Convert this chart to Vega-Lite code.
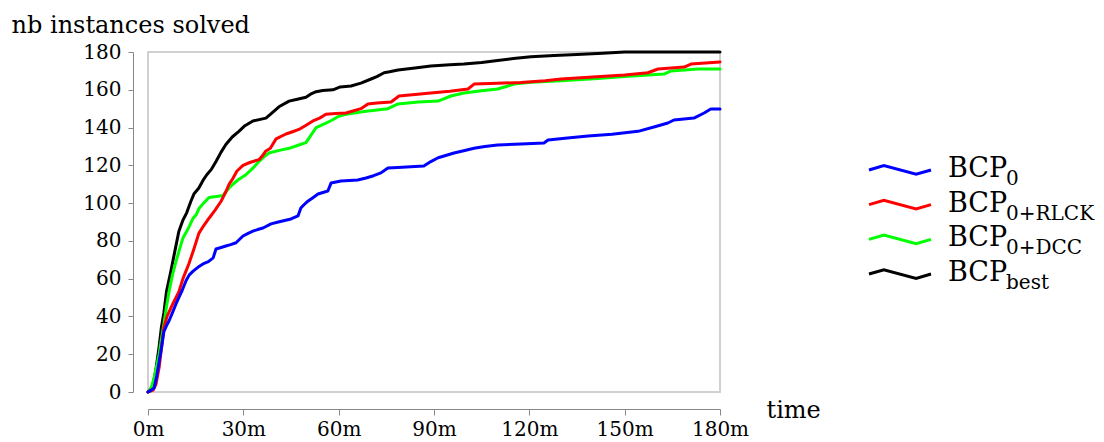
{
  "$schema": "https://vega.github.io/schema/vega-lite/v6.json",
  "background": "white",
  "padding": {"left": 10, "top": 12, "right": 0, "bottom": 0},
  "bounds": "flush",
  "spacing": 149,
  "config": {"font": "DejaVu Serif", "view": {"stroke": null}},
  "datasets": {
    "curves": [
      {"s":"best","t":0,"n":0},{"s":"best","t":1.5,"n":3},{"s":"best","t":2.5,"n":12},{"s":"best","t":3.5,"n":24},{"s":"best","t":4.2,"n":34},{"s":"best","t":5,"n":42},{"s":"best","t":5.8,"n":53},{"s":"best","t":7.2,"n":64},{"s":"best","t":8.5,"n":75},{"s":"best","t":9.7,"n":85},{"s":"best","t":11,"n":91},{"s":"best","t":12.2,"n":95},{"s":"best","t":13.5,"n":101},{"s":"best","t":14.5,"n":105},{"s":"best","t":16,"n":108},{"s":"best","t":17.3,"n":112},{"s":"best","t":18.5,"n":115},{"s":"best","t":20,"n":118},{"s":"best","t":21.4,"n":122},{"s":"best","t":23,"n":127},{"s":"best","t":24.5,"n":131},{"s":"best","t":26.5,"n":135},{"s":"best","t":28.6,"n":138},{"s":"best","t":30.5,"n":141},{"s":"best","t":33,"n":143.5},{"s":"best","t":37.1,"n":145},{"s":"best","t":38.5,"n":147},{"s":"best","t":41.2,"n":151},{"s":"best","t":44.4,"n":154},{"s":"best","t":47,"n":155},{"s":"best","t":49.7,"n":156},{"s":"best","t":51.5,"n":158},{"s":"best","t":52.9,"n":159},{"s":"best","t":55,"n":159.6},{"s":"best","t":58.2,"n":160},{"s":"best","t":60.5,"n":161.5},{"s":"best","t":63.9,"n":162},{"s":"best","t":67,"n":163.5},{"s":"best","t":70.2,"n":165.7},{"s":"best","t":72,"n":167},{"s":"best","t":74.3,"n":169},{"s":"best","t":76,"n":169.5},{"s":"best","t":78.7,"n":170.5},{"s":"best","t":84,"n":171.5},{"s":"best","t":89,"n":172.6},{"s":"best","t":95,"n":173.2},{"s":"best","t":99.4,"n":173.6},{"s":"best","t":105,"n":174.4},{"s":"best","t":110,"n":175.5},{"s":"best","t":115,"n":176.5},{"s":"best","t":120.5,"n":177.5},{"s":"best","t":127.8,"n":178.2},{"s":"best","t":135,"n":178.7},{"s":"best","t":143,"n":179.3},{"s":"best","t":150,"n":180},{"s":"best","t":180,"n":180},
      {"s":"dcc","t":0,"n":0},{"s":"dcc","t":1,"n":2},{"s":"dcc","t":2,"n":8},{"s":"dcc","t":3.5,"n":20},{"s":"dcc","t":4.2,"n":28},{"s":"dcc","t":5,"n":36},{"s":"dcc","t":5.8,"n":45},{"s":"dcc","t":6.6,"n":53},{"s":"dcc","t":7.7,"n":62},{"s":"dcc","t":8.8,"n":69},{"s":"dcc","t":10,"n":76},{"s":"dcc","t":11,"n":81.5},{"s":"dcc","t":12.5,"n":86},{"s":"dcc","t":14.2,"n":92},{"s":"dcc","t":15.2,"n":94},{"s":"dcc","t":16,"n":97},{"s":"dcc","t":17.5,"n":100},{"s":"dcc","t":19.2,"n":103},{"s":"dcc","t":21.5,"n":103.5},{"s":"dcc","t":23.6,"n":104},{"s":"dcc","t":25.5,"n":108},{"s":"dcc","t":26.7,"n":110},{"s":"dcc","t":28.5,"n":112.5},{"s":"dcc","t":30.8,"n":115},{"s":"dcc","t":33,"n":118.5},{"s":"dcc","t":34.9,"n":122},{"s":"dcc","t":36.5,"n":124.5},{"s":"dcc","t":38,"n":126.5},{"s":"dcc","t":41,"n":127.8},{"s":"dcc","t":44.4,"n":129},{"s":"dcc","t":47,"n":130.5},{"s":"dcc","t":49.7,"n":132},{"s":"dcc","t":51.3,"n":136},{"s":"dcc","t":52.9,"n":140},{"s":"dcc","t":56,"n":142.4},{"s":"dcc","t":58,"n":144},{"s":"dcc","t":60,"n":146},{"s":"dcc","t":62.3,"n":147},{"s":"dcc","t":68,"n":148.5},{"s":"dcc","t":75.5,"n":150},{"s":"dcc","t":78.7,"n":152.5},{"s":"dcc","t":85,"n":153.5},{"s":"dcc","t":91.3,"n":154},{"s":"dcc","t":95.3,"n":156.7},{"s":"dcc","t":99.4,"n":158.3},{"s":"dcc","t":105,"n":159.5},{"s":"dcc","t":110,"n":160.4},{"s":"dcc","t":115.2,"n":163},{"s":"dcc","t":120.5,"n":164},{"s":"dcc","t":130,"n":164.8},{"s":"dcc","t":141.6,"n":166},{"s":"dcc","t":150,"n":167},{"s":"dcc","t":162.4,"n":168.3},{"s":"dcc","t":164.6,"n":170},{"s":"dcc","t":173,"n":171},{"s":"dcc","t":180,"n":171},
      {"s":"rlck","t":0,"n":0},{"s":"rlck","t":1.6,"n":1},{"s":"rlck","t":2.5,"n":4},{"s":"rlck","t":3.5,"n":13},{"s":"rlck","t":4.3,"n":24},{"s":"rlck","t":5,"n":34},{"s":"rlck","t":6,"n":40},{"s":"rlck","t":7.9,"n":47},{"s":"rlck","t":9.7,"n":53},{"s":"rlck","t":11,"n":60},{"s":"rlck","t":12.9,"n":68},{"s":"rlck","t":14.5,"n":76},{"s":"rlck","t":16,"n":84},{"s":"rlck","t":17.5,"n":88},{"s":"rlck","t":19.2,"n":92},{"s":"rlck","t":21,"n":96},{"s":"rlck","t":23,"n":101},{"s":"rlck","t":24.5,"n":106},{"s":"rlck","t":25.5,"n":110},{"s":"rlck","t":26.7,"n":113},{"s":"rlck","t":28,"n":117},{"s":"rlck","t":29.9,"n":120},{"s":"rlck","t":32,"n":121.5},{"s":"rlck","t":34.9,"n":123},{"s":"rlck","t":36,"n":125},{"s":"rlck","t":37.1,"n":127.6},{"s":"rlck","t":38.5,"n":129},{"s":"rlck","t":40.3,"n":134},{"s":"rlck","t":43.4,"n":136.6},{"s":"rlck","t":45.5,"n":137.8},{"s":"rlck","t":47.5,"n":139},{"s":"rlck","t":49.5,"n":141},{"s":"rlck","t":51.9,"n":143.5},{"s":"rlck","t":54,"n":145},{"s":"rlck","t":56,"n":147},{"s":"rlck","t":59,"n":147.5},{"s":"rlck","t":62.3,"n":147.7},{"s":"rlck","t":67,"n":150},{"s":"rlck","t":69.2,"n":152.5},{"s":"rlck","t":72,"n":153},{"s":"rlck","t":76.5,"n":153.5},{"s":"rlck","t":79,"n":156.7},{"s":"rlck","t":84,"n":157.5},{"s":"rlck","t":89,"n":158.3},{"s":"rlck","t":95,"n":159.2},{"s":"rlck","t":100.7,"n":160.4},{"s":"rlck","t":102.6,"n":163},{"s":"rlck","t":110,"n":163.5},{"s":"rlck","t":117.4,"n":163.8},{"s":"rlck","t":125,"n":164.8},{"s":"rlck","t":130,"n":165.7},{"s":"rlck","t":140,"n":166.8},{"s":"rlck","t":150,"n":167.8},{"s":"rlck","t":157.3,"n":169},{"s":"rlck","t":160.5,"n":171},{"s":"rlck","t":168.7,"n":172},{"s":"rlck","t":170.9,"n":173.6},{"s":"rlck","t":180,"n":174.7},
      {"s":"b0","t":0,"n":0},{"s":"b0","t":1,"n":1},{"s":"b0","t":1.9,"n":2},{"s":"b0","t":2.7,"n":8},{"s":"b0","t":3.5,"n":16},{"s":"b0","t":4.3,"n":24},{"s":"b0","t":5,"n":32},{"s":"b0","t":5.8,"n":35},{"s":"b0","t":6.6,"n":37.6},{"s":"b0","t":7.7,"n":42},{"s":"b0","t":8.8,"n":46.6},{"s":"b0","t":9.7,"n":50},{"s":"b0","t":10.8,"n":54},{"s":"b0","t":12,"n":59},{"s":"b0","t":13,"n":62},{"s":"b0","t":14.2,"n":64},{"s":"b0","t":15.7,"n":66},{"s":"b0","t":17.3,"n":67.8},{"s":"b0","t":19,"n":69},{"s":"b0","t":20.5,"n":71},{"s":"b0","t":21.4,"n":75.7},{"s":"b0","t":23,"n":76.5},{"s":"b0","t":24.5,"n":77.3},{"s":"b0","t":26,"n":78},{"s":"b0","t":27.7,"n":79},{"s":"b0","t":29.9,"n":82.6},{"s":"b0","t":31.5,"n":84},{"s":"b0","t":33,"n":85.2},{"s":"b0","t":34.5,"n":86},{"s":"b0","t":36.2,"n":86.8},{"s":"b0","t":38.7,"n":89},{"s":"b0","t":41,"n":90},{"s":"b0","t":45,"n":91.6},{"s":"b0","t":47.2,"n":93.2},{"s":"b0","t":48.1,"n":97.4},{"s":"b0","t":49,"n":99},{"s":"b0","t":50.3,"n":101},{"s":"b0","t":52,"n":103},{"s":"b0","t":53.5,"n":104.8},{"s":"b0","t":56.6,"n":106.4},{"s":"b0","t":57.6,"n":110.6},{"s":"b0","t":60.7,"n":111.7},{"s":"b0","t":66,"n":112.2},{"s":"b0","t":68.6,"n":113.3},{"s":"b0","t":71,"n":114.5},{"s":"b0","t":73.3,"n":116},{"s":"b0","t":75.5,"n":118.6},{"s":"b0","t":80,"n":119},{"s":"b0","t":86.8,"n":119.6},{"s":"b0","t":89,"n":122},{"s":"b0","t":91.3,"n":124},{"s":"b0","t":96.3,"n":126.5},{"s":"b0","t":100,"n":128},{"s":"b0","t":102.6,"n":129},{"s":"b0","t":106,"n":130},{"s":"b0","t":110,"n":130.8},{"s":"b0","t":117.4,"n":131.3},{"s":"b0","t":124.6,"n":131.8},{"s":"b0","t":125.9,"n":133.4},{"s":"b0","t":132,"n":134.5},{"s":"b0","t":138.5,"n":135.5},{"s":"b0","t":146,"n":136.5},{"s":"b0","t":154.2,"n":138},{"s":"b0","t":159.2,"n":140.3},{"s":"b0","t":163.6,"n":142.4},{"s":"b0","t":165.5,"n":144},{"s":"b0","t":171.8,"n":145},{"s":"b0","t":175,"n":147.7},{"s":"b0","t":177.1,"n":149.8},{"s":"b0","t":180,"n":149.8}
    ],
    "legend": [
      {"s":"b0","sub":"0"},
      {"s":"rlck","sub":"0+RLCK"},
      {"s":"dcc","sub":"0+DCC"},
      {"s":"best","sub":"best"}
    ]
  },
  "hconcat": [
    {
      "width": 572,
      "height": 340,
      "view": {"stroke": "#d0d0d0", "strokeWidth": 2},
      "data": {"name": "curves"},
      "mark": {"type": "line", "strokeWidth": 3, "strokeJoin": "round", "strokeCap": "round"},
      "encoding": {
        "x": {
          "field": "t", "type": "quantitative",
          "scale": {"domain": [0, 180], "nice": false, "zero": false},
          "axis": {
            "values": [0, 30, 60, 90, 120, 150, 180],
            "labelExpr": "datum.value + 'm'",
            "offset": 17, "grid": false,
            "domainColor": "#888888", "tickColor": "#888888", "tickSize": 6,
            "labelFont": "DejaVu Serif", "labelFontSize": 20, "labelColor": "black",
            "labelPadding": 4, "labelFlush": false, "labelOverlap": false,
            "title": "time", "titleFont": "DejaVu Serif", "titleFontSize": 24, "titleFontWeight": "normal",
            "titleColor": "black", "titleAlign": "left", "titleBaseline": "alphabetic",
            "titleX": 618, "titleY": 8
          }
        },
        "y": {
          "field": "n", "type": "quantitative",
          "scale": {"domain": [0, 180], "nice": false},
          "axis": {
            "values": [0, 20, 40, 60, 80, 100, 120, 140, 160, 180],
            "offset": 15, "grid": false,
            "domainColor": "#888888", "tickColor": "#888888", "tickSize": 5,
            "labelFont": "DejaVu Serif", "labelFontSize": 20, "labelColor": "black",
            "labelPadding": 7, "labelOverlap": false,
            "title": "nb instances solved", "titleFont": "DejaVu Serif", "titleFontSize": 24, "titleFontWeight": "normal",
            "titleColor": "black", "titleAngle": 0, "titleAlign": "left", "titleBaseline": "alphabetic",
            "titleX": -122, "titleY": -20
          }
        },
        "color": {
          "field": "s", "type": "nominal",
          "scale": {"domain": ["b0", "rlck", "dcc", "best"], "range": ["#0000ff", "#ff0000", "#00ff00", "#000000"]},
          "legend": null
        }
      }
    },
    {
      "width": 236,
      "height": 340,
      "data": {"name": "legend"},
      "encoding": {
        "y": {"field": "s", "type": "nominal", "scale": {"type": "point", "domain": ["_a", "_b", "_c", "b0", "rlck", "dcc", "best", "_d", "_e", "_f"], "padding": 0.4}, "axis": null}
      },
      "layer": [
        {
          "mark": {"type": "point", "shape": "M -1 0 L -0.52 -0.14 L 0.52 0.14 L 1 0", "filled": false, "strokeWidth": 3, "size": 3844, "opacity": 1, "strokeJoin": "miter"},
          "encoding": {
            "x": {"datum": 31, "type": "quantitative", "scale": {"domain": [0, 236], "nice": false, "zero": false}, "axis": null},
            "color": {"field": "s", "type": "nominal", "legend": null}
          }
        },
        {
          "mark": {"type": "text", "text": "BCP", "fontSize": 27, "align": "left", "baseline": "alphabetic", "dy": 7, "color": "black", "font": "DejaVu Serif"},
          "encoding": {"x": {"datum": 79, "type": "quantitative"}}
        },
        {
          "mark": {"type": "text", "fontSize": 20, "align": "left", "baseline": "alphabetic", "dy": 15, "color": "black", "font": "DejaVu Serif"},
          "encoding": {"x": {"datum": 137, "type": "quantitative"}, "text": {"field": "sub"}}
        }
      ]
    }
  ]
}
